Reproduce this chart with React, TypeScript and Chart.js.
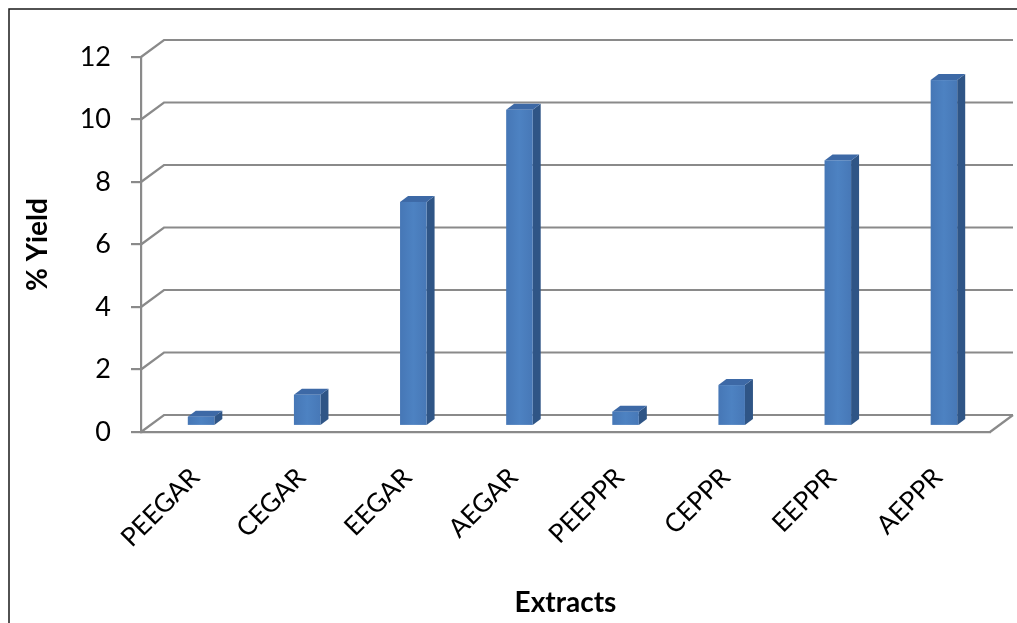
import React, { useEffect, useRef } from "react";
import { Chart, registerables } from "chart.js";

Chart.register(...registerables);

const categories = ["PEEGAR", "CEGAR", "EEGAR", "AEGAR", "PEEPPR", "CEPPR", "EEPPR", "AEPPR"];
const yieldValues = [0.3, 1.0, 7.17, 10.12, 0.46, 1.31, 8.5, 11.07];
const yTickMin = 0;
const yTickMax = 12;
const yTickStep = 2;
const yTitle = "% Yield";
const xTitle = "Extracts";

const W = 1017;
const H = 623;
const FONT = "Lato, 'Open Sans', sans-serif";

// perspective offsets
const WALL_DX = 23;
const WALL_DY = -17;
const BAR_DX = 7;
const BAR_DY = -6;
const BAR_DEPTH_X = 8;
const BAR_DEPTH_Y = -6;

const GRID_COLOR = "#8a8a8a";

const threeDPlugin = {
  id: "threeD",
  beforeDraw(chart: any) {
    const ctx = chart.ctx;
    ctx.save();
    ctx.fillStyle = "#ffffff";
    ctx.fillRect(0, 0, chart.width, chart.height);
    ctx.strokeStyle = "#1a1a1a";
    ctx.lineWidth = 1.5;
    ctx.beginPath();
    ctx.moveTo(9, chart.height);
    ctx.lineTo(9, 9);
    ctx.lineTo(chart.width, 9);
    ctx.stroke();
    ctx.restore();
  },
  beforeDatasetsDraw(chart: any) {
    const ctx = chart.ctx;
    const { left, right, bottom } = chart.chartArea;
    const y = chart.scales.y;
    ctx.save();
    ctx.strokeStyle = GRID_COLOR;
    ctx.lineWidth = 2.2;
    ctx.lineJoin = "miter";
    y.ticks.forEach((t: any) => {
      const py = y.getPixelForValue(t.value);
      ctx.beginPath();
      ctx.moveTo(left, py);
      ctx.lineTo(left + WALL_DX, py + WALL_DY);
      ctx.lineTo(right + WALL_DX, py + WALL_DY);
      ctx.stroke();
    });
    ctx.beginPath();
    ctx.moveTo(right, bottom);
    ctx.lineTo(right + WALL_DX, bottom + WALL_DY);
    ctx.stroke();
    ctx.restore();
  },
  afterDatasetsDraw(chart: any) {
    const ctx = chart.ctx;
    const meta = chart.getDatasetMeta(0);
    ctx.save();
    meta.data.forEach((bar: any) => {
      const { x, y, base, width } = bar.getProps(["x", "y", "base", "width"], true);
      const l = x - width / 2 + BAR_DX;
      const r = x + width / 2 + BAR_DX;
      const t = y + BAR_DY;
      const b = base + BAR_DY;
      ctx.fillStyle = "#2f5586";
      ctx.beginPath();
      ctx.moveTo(r, t);
      ctx.lineTo(r + BAR_DEPTH_X, t + BAR_DEPTH_Y);
      ctx.lineTo(r + BAR_DEPTH_X, b + BAR_DEPTH_Y);
      ctx.lineTo(r, b);
      ctx.closePath();
      ctx.fill();
      ctx.fillStyle = "#3d69a6";
      ctx.beginPath();
      ctx.moveTo(l, t);
      ctx.lineTo(l + BAR_DEPTH_X, t + BAR_DEPTH_Y);
      ctx.lineTo(r + BAR_DEPTH_X, t + BAR_DEPTH_Y);
      ctx.lineTo(r, t);
      ctx.closePath();
      ctx.fill();
      const g = ctx.createLinearGradient(l, 0, r, 0);
      g.addColorStop(0, "#4677b6");
      g.addColorStop(0.5, "#4d82c2");
      g.addColorStop(1, "#4778b7");
      ctx.fillStyle = g;
      ctx.fillRect(l, t, r - l, b - t);
    });
    ctx.restore();
  },
};

export default function App() {
  const ref = useRef<HTMLCanvasElement | null>(null);
  useEffect(() => {
    if (!ref.current) return;
    const chart = new Chart(ref.current, {
      type: "bar",
      data: {
        labels: categories,
        datasets: [
          {
            label: yTitle,
            data: yieldValues,
            backgroundColor: "rgba(0,0,0,0)",
            borderWidth: 0,
            barPercentage: 0.25,
            categoryPercentage: 1,
          },
        ],
      },
      options: {
        animation: false,
        responsive: false,
        devicePixelRatio: 1,
        layout: { padding: { left: 0, right: 27, top: 57, bottom: 0 } },
        plugins: {
          legend: { display: false },
          tooltip: { enabled: false },
        },
        scales: {
          x: {
            grid: { display: false, drawTicks: false },
            border: { display: true, color: GRID_COLOR, width: 2.2 },
            ticks: {
              color: "#000",
              font: { family: FONT, size: 26 },
              maxRotation: 45,
              minRotation: 45,
              padding: 30,
              labelOffset: 1,
              autoSkip: false,
            },
            title: {
              display: true,
              text: xTitle,
              color: "#000",
              font: { family: FONT, size: 28, weight: "bold" },
              padding: { top: 0, bottom: 3 },
            },
            afterFit: (s: any) => {
              s.height = 191;
            },
          },
          y: {
            min: yTickMin,
            max: yTickMax,
            ticks: {
              stepSize: yTickStep,
              color: "#000",
              font: { family: FONT, size: 27 },
              padding: 20,
            },
            grid: {
              display: true,
              drawOnChartArea: false,
              drawTicks: true,
              tickLength: 10,
              color: GRID_COLOR,
              lineWidth: 2.2,
            },
            border: { display: true, color: GRID_COLOR, width: 2.2 },
            title: {
              display: true,
              text: yTitle,
              color: "#000",
              font: { family: FONT, size: 28, weight: "bold" },
              padding: { top: 21, bottom: 0 },
            },
            afterFit: (s: any) => {
              s.width = 141;
            },
          },
        },
      },
      plugins: [threeDPlugin],
    });
    return () => chart.destroy();
  }, []);
  return (
    <div style={{ position: "absolute", left: 0, top: 0, width: W, height: H, background: "#fff" }}>
      <canvas ref={ref} width={W} height={H} style={{ width: W, height: H, display: "block" }} />
    </div>
  );
}
